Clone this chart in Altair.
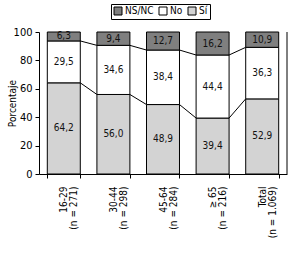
import altair as alt
import pandas as pd

ages = ["16-29", "30-44", "45-64", "≥ 65", "Total"]
ns = ["(n = 271)", "(n = 298)", "(n = 284)", "(n = 216)", "(n = 1.069)"]
si = [64.2, 56.0, 48.9, 39.4, 52.9]
no = [29.5, 34.6, 38.4, 44.4, 36.3]
nsnc = [6.3, 9.4, 12.7, 16.2, 10.9]
yticks = [0, 20, 40, 60, 80, 100]
series = ["Sí", "No", "NS/NC"]

cats = [f"{a}|{n}" for a, n in zip(ages, ns)]
FONT = "DejaVu Sans Condensed, Liberation Sans Narrow, sans-serif"

rows = []
tops = {s: [] for s in series}
for i, c in enumerate(cats):
    acc = 0.0
    for s, vals in zip(series, [si, no, nsnc]):
        v = vals[i]
        rows.append(dict(cat=c, serie=s, start=acc, end=min(acc + v, 100),
                         mid=acc + v / 2, label=f"{v:.1f}".replace(".", ",")))
        acc += v
        tops[s].append(acc)
df = pd.DataFrame(rows)

lines = []
for i in range(len(cats) - 1):
    for s in ["Sí", "No"]:
        lines.append(dict(c1=cats[i], c2=cats[i + 1], y1=tops[s][i], y2=tops[s][i + 1]))
ldf = pd.DataFrame(lines)

xscale = alt.Scale(domain=cats, paddingInner=0.335, paddingOuter=0.1675)
yscale = alt.Scale(domain=[0, 100], nice=False)
xaxis = alt.Axis(title="Edad (años)",
                 labelExpr="isValid(datum.value) ? split(datum.value, '|') : ''",
                 labelAngle=270, tickBand="extent", labelPadding=8, labelFontSize=10,
                 tickSize=4, labelLineHeight=10, titlePadding=26)
yaxis = alt.Axis(values=yticks, tickCount=6, title="Porcentaje",
                 grid=False, tickSize=4, labelPadding=3,
                 labelOverlap=False, labelFontSize=11, titleX=-27, titleBaseline="middle")

bars = alt.Chart(df).mark_bar(stroke="black", strokeWidth=1, opacity=1).encode(
    x=alt.X("cat:N", sort=cats, scale=xscale, axis=xaxis),
    y=alt.Y("start:Q", scale=yscale, axis=yaxis),
    y2="end:Q",
    color=alt.Color("serie:N", scale=alt.Scale(domain=["NS/NC", "No", "Sí"],
                                               range=["#7f7f7f", "#ffffff", "#d3d3d3"]),
                    legend=alt.Legend(title=None, orient="none", legendX=72, legendY=-28,
                                      direction="horizontal", symbolType="square",
                                      symbolSize=64, symbolStrokeColor="black",
                                      symbolStrokeWidth=1, symbolOpacity=1,
                                      labelFontSize=10, columnPadding=3, labelOffset=2,
                                      padding=2, strokeColor="black")),
)

texts = alt.Chart(df).mark_text(fontSize=10, color="#111", baseline="middle").encode(
    x=alt.X("cat:N", sort=cats, scale=xscale, axis=xaxis),
    y=alt.Y("mid:Q", scale=yscale, axis=yaxis),
    text="label:N",
)

connectors = alt.Chart(ldf).mark_rule(color="black", strokeWidth=1).encode(
    x=alt.X("c1:N", sort=cats, scale=xscale, bandPosition=1, axis=xaxis),
    x2=alt.X2("c2:N", bandPosition=0),
    y=alt.Y("y1:Q", scale=yscale, axis=yaxis),
    y2="y2:Q",
)

border = alt.Chart(pd.DataFrame({"a": [0]})).mark_rule(color="black").encode(
    x=alt.value(248), y=alt.value(0), y2=alt.value(142))

chart = alt.layer(bars, connectors, texts, border).properties(
    width=248, height=142, autosize="none",
    padding={"left": 39, "top": 32, "right": 6, "bottom": 83},
).configure(font=FONT).configure_view(stroke=None).configure_axis(
    domainColor="black", tickColor="black", labelColor="black", titleColor="black",
    titleFontSize=10, titleFontWeight="normal", labelFont=FONT, titleFont=FONT,
    labelOverlap=False,
).configure_legend(labelFont=FONT, labelColor="black")

chart.save("out.html", embed_options={"renderer": "svg", "actions": False})
